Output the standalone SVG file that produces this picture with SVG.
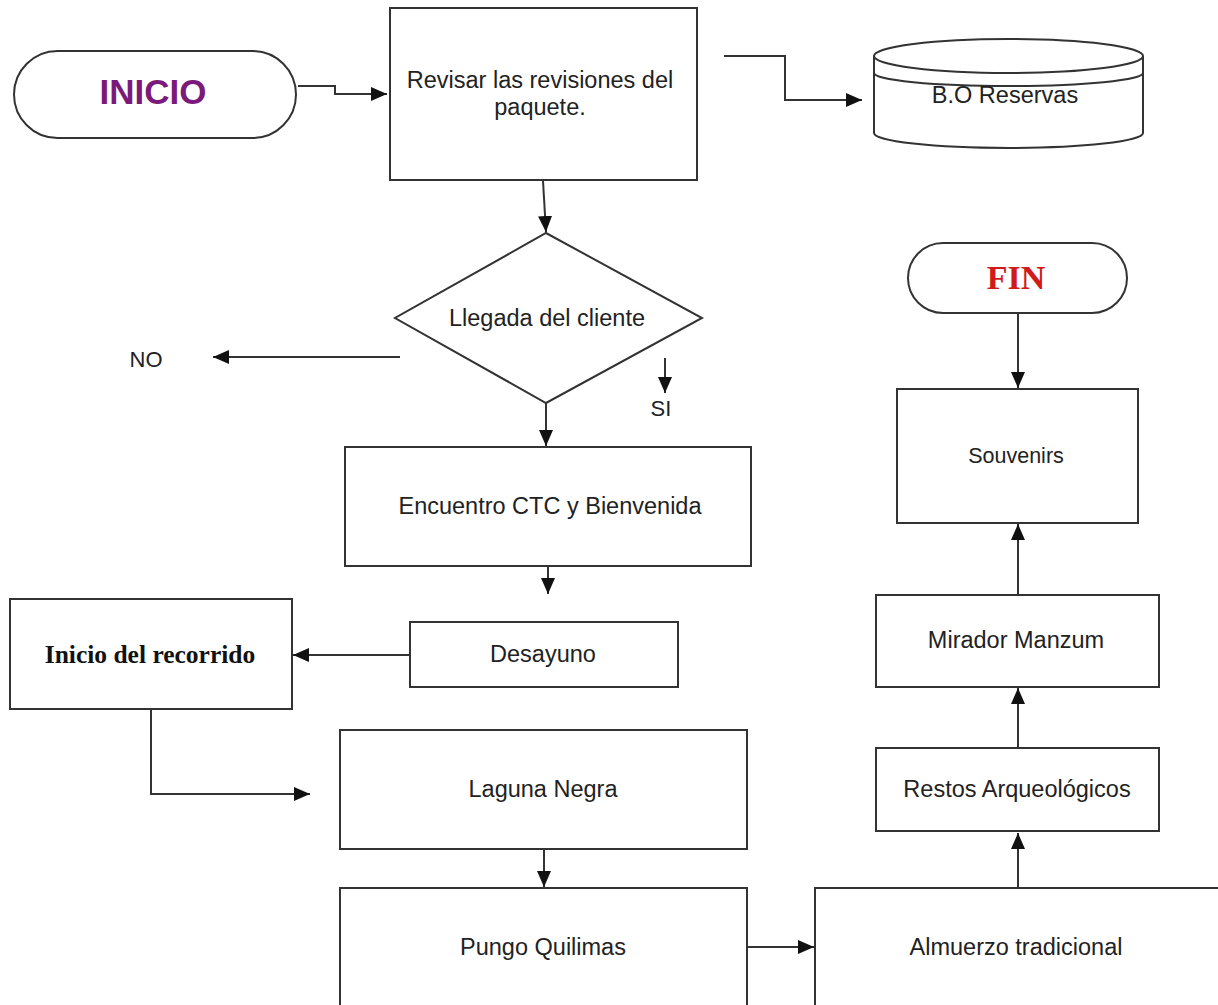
<svg xmlns="http://www.w3.org/2000/svg" width="1218" height="1005" viewBox="0 0 1218 1005">
<style>
.box{fill:#fff;stroke:#333;stroke-width:2}
.ln{fill:none;stroke:#333;stroke-width:2}
.t{font-family:"Liberation Sans",Arial,sans-serif;font-size:23.5px;fill:#222;text-anchor:middle}
</style>
<defs>
<marker id="ah" markerUnits="userSpaceOnUse" markerWidth="18" markerHeight="14" refX="16" refY="7" orient="auto">
<path d="M0,0 L16,7 L0,14 Z" fill="#111"/>
</marker>
</defs>
<rect width="1218" height="1005" fill="#fff"/>
<g id="connectors">
<path class="ln" d="M298,86 H335 V94 H387" marker-end="url(#ah)"/>
<path class="ln" d="M724,56 H785 V100 H862" marker-end="url(#ah)"/>
<path class="ln" d="M543,181 L546,232" marker-end="url(#ah)"/>
<path class="ln" d="M400,357 H213" marker-end="url(#ah)"/>
<path class="ln" d="M665,358 V393" marker-end="url(#ah)"/>
<path class="ln" d="M546,403 V446" marker-end="url(#ah)"/>
<path class="ln" d="M548,567 V594" marker-end="url(#ah)"/>
<path class="ln" d="M410,655 H293" marker-end="url(#ah)"/>
<path class="ln" d="M151,710 V794 H310" marker-end="url(#ah)"/>
<path class="ln" d="M544,850 V887" marker-end="url(#ah)"/>
<path class="ln" d="M748,947 H814" marker-end="url(#ah)"/>
<path class="ln" d="M1018,888 V833" marker-end="url(#ah)"/>
<path class="ln" d="M1018,748 V688" marker-end="url(#ah)"/>
<path class="ln" d="M1018,595 V524" marker-end="url(#ah)"/>
<path class="ln" d="M1018,314 V388" marker-end="url(#ah)"/>
</g>
<g id="inicio">
<rect class="box" x="14" y="51" width="282" height="87" rx="43.5"/>
<text x="153" y="104" style="font-family:'Liberation Sans',Arial,sans-serif;font-size:35px;font-weight:bold;fill:#7b1a7b;text-anchor:middle">INICIO</text>
</g>
<g id="revisar">
<rect class="box" x="390" y="8" width="307" height="172"/>
<text class="t" x="540" y="88">Revisar las revisiones del</text>
<text class="t" x="540" y="115">paquete.</text>
</g>
<g id="reservas">
<path class="box" d="M874,56 V133 A134.5,15 0 0 0 1143,133 V56"/>
<ellipse class="box" cx="1008.5" cy="56" rx="134.5" ry="17"/>
<path class="ln" d="M874,73 A134.5,13 0 0 0 1143,73"/>
<text class="t" x="1005" y="103">B.O Reservas</text>
</g>
<g id="llegada">
<polygon class="box" points="546,233 702,318 546,403 395,318"/>
<text class="t" x="547" y="326">Llegada del cliente</text>
</g>
<g id="no">
<text class="t" x="146" y="367" style="font-size:22px">NO</text>
</g>
<g id="si">
<text class="t" x="661" y="416" style="font-size:22px">SI</text>
</g>
<g id="encuentro">
<rect class="box" x="345" y="447" width="406" height="119"/>
<text class="t" x="550" y="514">Encuentro CTC y Bienvenida</text>
</g>
<g id="desayuno">
<rect class="box" x="410" y="622" width="268" height="65"/>
<text class="t" x="543" y="662">Desayuno</text>
</g>
<g id="inicio-recorrido">
<rect class="box" x="10" y="599" width="282" height="110"/>
<text x="150" y="663" style="font-family:'Liberation Serif','Times New Roman',serif;font-size:25.5px;font-weight:bold;fill:#111;text-anchor:middle">Inicio del recorrido</text>
</g>
<g id="laguna">
<rect class="box" x="340" y="730" width="407" height="119"/>
<text class="t" x="543" y="797">Laguna Negra</text>
</g>
<g id="pungo">
<rect class="box" x="340" y="888" width="407" height="130"/>
<text class="t" x="543" y="955">Pungo Quilimas</text>
</g>
<g id="almuerzo">
<rect class="box" x="815" y="888" width="420" height="130"/>
<text class="t" x="1016" y="955">Almuerzo tradicional</text>
</g>
<g id="restos">
<rect class="box" x="876" y="748" width="283" height="83"/>
<text class="t" x="1017" y="797">Restos Arqueológicos</text>
</g>
<g id="mirador">
<rect class="box" x="876" y="595" width="283" height="92"/>
<text class="t" x="1016" y="648">Mirador Manzum</text>
</g>
<g id="souvenirs">
<rect class="box" x="897" y="389" width="241" height="134"/>
<text class="t" x="1016" y="463" style="font-size:21.5px">Souvenirs</text>
</g>
<g id="fin">
<rect class="box" x="908" y="243" width="219" height="70" rx="35"/>
<text x="1016" y="289" style="font-family:'Liberation Serif','Times New Roman',serif;font-size:34px;font-weight:bold;fill:#d11a1a;text-anchor:middle">FIN</text>
</g>
</svg>
